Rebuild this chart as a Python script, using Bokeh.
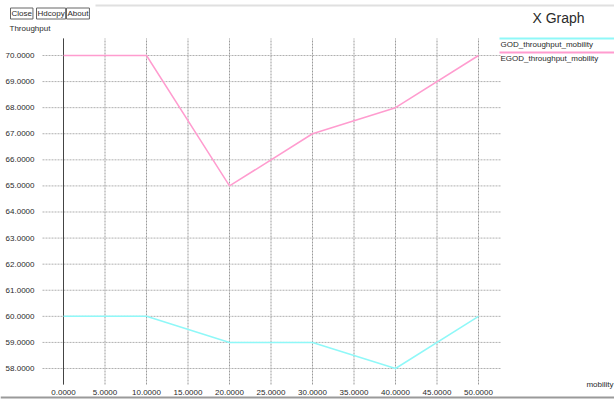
from bokeh.plotting import figure
from bokeh.models import (Range1d, FixedTicker, NumeralTickFormatter,
                          Label, BoxAnnotation, LinearAxis)
from bokeh.embed import file_html
from bokeh.resources import INLINE

# Throughput versus mobility for the two protocols
mobility = [0, 10, 20, 30, 40, 50]
god_throughput = [60, 60, 59, 59, 58, 60]
egod_throughput = [70, 70, 65, 67, 68, 70]

x_ticks = [0, 5, 10, 15, 20, 25, 30, 35, 40, 45, 50]
y_ticks = [58, 59, 60, 61, 62, 63, 64, 65, 66, 67, 68, 69, 70]

series_names = ["GOD_throughput_mobility", "EGOD_throughput_mobility"]
series_colors = ["#8ff8f8", "#ff9ccf"]

FONT = "Liberation Sans"
TXT = "#2a2a2a"

# the plotting frame fills the whole window so the window chrome can be drawn too
W, H = 614, 399
X0_PX, XSCALE = 63, 8.3        # pixel of x=0, pixels per mobility unit
Y70_PX, YSCALE = 55, 26.083    # pixel of y=70, pixels per throughput unit


def px_to_x(px):
    return (px - X0_PX) / XSCALE


def px_to_y(py):
    return 70 - (py - Y70_PX) / YSCALE


p = figure(width=W, height=H, output_backend="svg", toolbar_location=None,
           x_range=Range1d(px_to_x(0), px_to_x(W)),
           y_range=Range1d(px_to_y(H), px_to_y(0)),
           x_axis_location=None, y_axis_location=None,
           min_border=0)
p.title.visible = False
p.outline_line_color = None
p.xgrid.visible = False
p.ygrid.visible = False
p.background_fill_color = "white"
p.border_fill_color = "white"

# plot area extents
left, right = px_to_x(42), px_to_x(500)
top, bottom = px_to_y(38), px_to_y(384)

xaxis = LinearAxis(fixed_location=px_to_y(381))
yaxis = LinearAxis(fixed_location=left)
p.add_layout(xaxis, "below")
p.add_layout(yaxis, "left")
for ax, ticks in ((xaxis, x_ticks), (yaxis, y_ticks)):
    ax.ticker = FixedTicker(ticks=ticks)
    ax.formatter = NumeralTickFormatter(format="0.0000")
    ax.axis_line_color = None
    ax.major_tick_line_color = None
    ax.minor_tick_line_color = None
    ax.major_label_text_font = FONT
    ax.major_label_text_font_size = "8px"
    ax.major_label_text_color = TXT
    ax.major_label_standoff = 2

# dashed grid over the plot area
p.segment(x0=x_ticks, y0=[bottom] * len(x_ticks), x1=x_ticks, y1=[top] * len(x_ticks),
          line_color="#9a9a9a", line_dash="2 1", line_width=1)
p.segment(x0=[left] * len(y_ticks), y0=y_ticks, x1=[right] * len(y_ticks), y1=y_ticks,
          line_color="#b0b0b0", line_dash="2 1", line_width=1)
# solid line at the origin
p.segment(x0=[0], y0=[bottom], x1=[0], y1=[top], line_color="#444444", line_width=1)

p.line(mobility, god_throughput, line_color=series_colors[0], line_width=1.5)
p.line(mobility, egod_throughput, line_color=series_colors[1], line_width=1.5)


def text(x, y, s, size="8px", align="left", **kw):
    p.add_layout(Label(x=x, y=y, x_units="canvas", y_units="canvas", text=s,
                       text_font=FONT, text_font_size=size, text_color=TXT,
                       text_align=align, text_baseline="middle", **kw))


def bar(x0, x1, y0, y1, color):
    p.add_layout(BoxAnnotation(left=x0, right=x1, top=y0, bottom=y1,
                               left_units="canvas", right_units="canvas",
                               top_units="canvas", bottom_units="canvas",
                               fill_color=color, fill_alpha=1, line_color=None))


# window buttons, title and axis names
for bx, label in ((10, "Close"), (36, "Hdcopy"), (66, "About")):
    text(bx, 13, label, border_line_color="#666666", padding=1)

text(558, 17, "X Graph", size="14px", align="center")
text(9, 28, "Throughput")
text(613, 384, "mobility", align="right")

# legend: a coloured rule with the series name beneath it
for i, (name, col) in enumerate(zip(series_names, series_colors)):
    ly = 38 + 14 * i
    bar(499, W, ly - 1, ly + 1, col)
    text(500, ly + 6, name)

# thin window rules at the top and bottom
bar(95, W, 4, 6, "#e0e0e0")
bar(0, W, 396, 398, "#9a9a9a")

open("out.html", "w").write(file_html(p, INLINE))
